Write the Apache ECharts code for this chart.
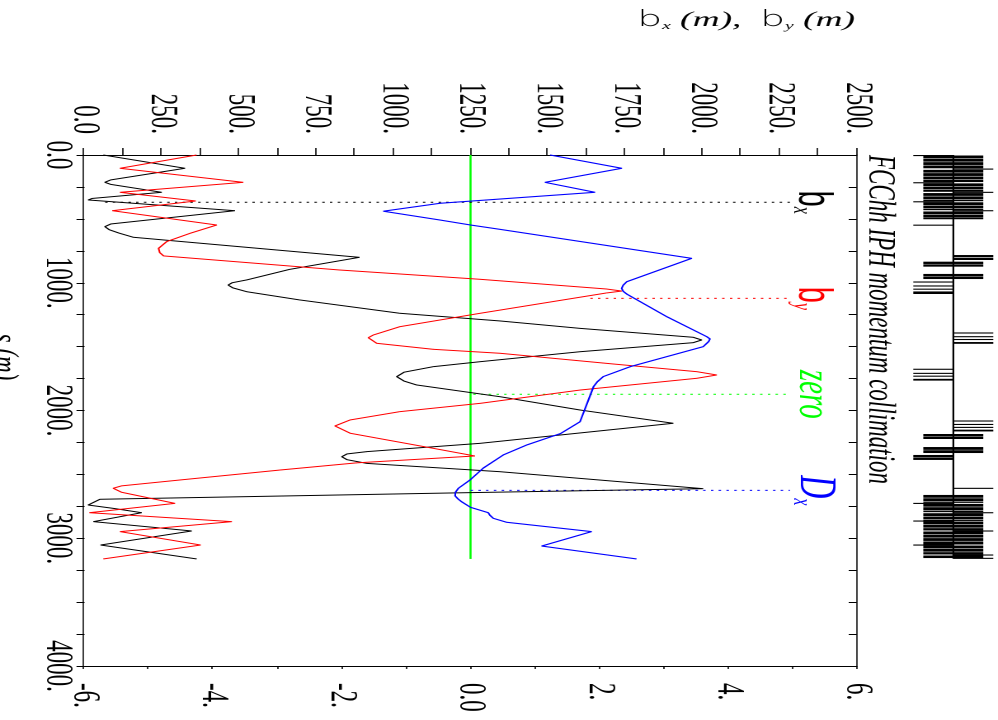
<!DOCTYPE html>
<html>
<head>
<meta charset="utf-8">
<script src="https://cdn.jsdelivr.net/npm/echarts@6/dist/echarts.min.js"></script>
<style>
  html, body { margin: 0; padding: 0; width: 998px; height: 720px; overflow: hidden; background: #fff; }
  /* the plot is drawn upright, then turned a quarter turn and stretched like the original print */
  #chart {
    position: absolute; left: 0; top: 0; width: 720px; height: 605px;
    transform-origin: 0 0;
    transform: translate(998px, 0) rotate(90deg) scaleY(1.6496);
  }
</style>
</head>
<body>
<div id="chart"></div>
<script>
const serif = '"Liberation Serif", "Times New Roman", serif'
const sans = '"Liberation Sans", Arial, sans-serif'
const thinSans = '"DejaVu Sans", "Liberation Sans", sans-serif'

// beta_x (m) along s (m)
const bxS = [0, 104, 195, 214, 230, 292, 340, 352, 362, 436, 540, 561, 585, 610, 644, 801, 895, 978, 1000, 1018, 1040, 1070, 1135, 1239, 1299, 1357, 1427, 1448, 1469, 1540, 1618, 1657, 1700, 1735, 1770, 1800, 1892, 1996, 2100, 2257, 2322, 2340, 2362, 2385, 2414, 2479, 2612, 2645, 2695, 2740, 2766, 2800, 2870, 2943, 3053, 3162]
const bxVal = [61, 325, 85, 66, 85, 250, 25, 12, 22, 487, 85, 66, 80, 110, 158, 890, 665, 525, 478, 465, 480, 525, 698, 1021, 1345, 1604, 1971, 1998, 1971, 1604, 1281, 1129, 1035, 1011, 1035, 1075, 1345, 1604, 1906, 1281, 914, 850, 833, 850, 914, 1345, 2003, 1200, 50, 12, 93, 185, 29, 347, 52, 363]

// beta_y (m) along s (m)
const byS = [0, 104, 214, 292, 360, 436, 548, 613, 678, 730, 765, 790, 801, 900, 973, 1049, 1065, 1080, 1239, 1344, 1409, 1430, 1474, 1521, 1552, 1636, 1696, 1722, 1748, 1840, 1944, 2009, 2074, 2121, 2178, 2296, 2356, 2410, 2466, 2544, 2590, 2609, 2640, 2727, 2800, 2870, 2948, 3053, 3162]
const byVal = [363, 115, 514, 115, 360, 90, 428, 342, 266, 240, 244, 256, 266, 825, 1281, 1690, 1739, 1690, 1281, 1021, 935, 919, 946, 1129, 1345, 1712, 1982, 2047, 1982, 1604, 1281, 1021, 860, 811, 860, 1129, 1264, 880, 633, 309, 120, 93, 120, 293, 16, 477, 115, 376, 61]

// D_x (m) along s (m)
const dxS = [0, 104, 214, 292, 378, 440, 509, 548, 582, 809, 992, 1020, 1044, 1066, 1088, 1265, 1422, 1440, 1460, 1500, 1657, 1735, 1775, 1814, 2088, 2180, 2270, 2348, 2450, 2544, 2609, 2640, 2669, 2690, 2714, 2758, 2800, 2820, 2844, 2875, 2948, 3061, 3162]
const dxVal = [1.234, 2.35, 1.156, 1.933, -0.476, -1.357, -0.476, 0, 0.457, 3.436, 2.426, 2.37, 2.348, 2.37, 2.426, 3.047, 3.67, 3.72, 3.7, 3.616, 2.48, 2.06, 1.97, 1.91, 1.7, 1.4, 0.872, 0.508, 0.2, -0.01, -0.19, -0.235, -0.24, -0.2, -0.14, 0, 0.275, 0.3, 0.353, 0.56, 1.88, 1.105, 2.58]

// reference line D_x = 0
const zeroS = [0, 3162]
const zeroVal = [0, 0]

// curve labels: s of the leader, D_x where it starts, D_x where it ends
const labelS = [370, 1122, 1873, 2625]
const labelFrom = [-5.68, 1.86, 0.04, 0]
const labelTo = 4.963

// machine layout along s (m): bends, focusing and defocusing quads
const bends = [
  [4, 26], [30, 52], [56, 78], [82, 104], [116, 138], [142, 164], [168, 190], [194, 212],
  [222, 244], [248, 270], [274, 288], [298, 320], [324, 346], [350, 362], [370, 392], [396, 418],
  [422, 432], [442, 464], [468, 490], [492, 503],
  [835, 853], [856, 874], [931, 949], [952, 971], [2184, 2202], [2205, 2223], [2286, 2308], [2311, 2333],
  [2661, 2683], [2687, 2709], [2713, 2723], [2731, 2753], [2757, 2779], [2783, 2796], [2804, 2826], [2830, 2852],
  [2856, 2861], [2869, 2891], [2895, 2917], [2921, 2939], [2947, 2969], [2973, 2995], [2999, 3021], [3025, 3049],
  [3057, 3079], [3083, 3105], [3109, 3127], [3135, 3155]
]
const quadsF = [
  [106, 113], [288, 296], [432, 440], [783, 800], [805, 822],
  [1389, 1396], [1418, 1425], [1440, 1447], [1464, 1478],
  [2078, 2085], [2105, 2112], [2128, 2136], [2150, 2164],
  [2605, 2611], [2796, 2804], [2939, 2947], [3127, 3135], [3153, 3157]
]
const quadsD = [
  [0, 3], [213, 220], [362, 369], [545, 551],
  [990, 997], [1021, 1027], [1046, 1053], [1068, 1088],
  [1673, 1680], [1705, 1712], [1727, 1734], [1752, 1766],
  [2348, 2366], [2369, 2387], [2723, 2731], [2861, 2869], [3049, 3057]
]
const lineS = [0, 3160]

const zip = (xs, ys) => xs.map((x, i) => [x, ys[i]])

function tickText (step) {
  return (v) => (v % step === 0 ? (v === 0 ? '0.0' : v + '.') : '')
}

const layoutData = []
bends.forEach((r) => layoutData.push([r[0], r[1], 0]))
quadsF.forEach((r) => layoutData.push([r[0], r[1], 1]))
quadsD.forEach((r) => layoutData.push([r[0], r[1], -1]))

const tickLabel = { fontSize: 23, fontFamily: serif, color: '#000' }

const chart = echarts.init(document.getElementById('chart'), null, { width: 720, height: 605, devicePixelRatio: 2 })

const leaderColors = ['#000', '#ff0000', '#00ff00', '#0000ff']
const leaderSeries = labelS.map((s, i) => ({
  type: 'line',
  xAxisIndex: 0,
  yAxisIndex: 1,
  data: [[s, labelFrom[i]], [s, labelTo]],
  symbol: 'none',
  lineStyle: { color: leaderColors[i], width: 1, type: [1.5, 3.2] },
  z: 3
}))

chart.setOption({
  animation: false,
  grid: [
    { left: 155, right: 54, top: 85.66, bottom: 51.23, outerBoundsMode: 'none' },
    { left: 155, right: 54, top: 2.85, height: 48.5, outerBoundsMode: 'none' }
  ],
  xAxis: [
    {
      gridIndex: 0, type: 'value', position: 'bottom', min: 0, max: 4000, interval: 250,
      axisLine: { show: true, onZero: false, lineStyle: { color: '#000', width: 0.8 } },
      axisTick: { show: true, inside: false, length: 4.85, lineStyle: { color: '#000', width: 1 } },
      axisLabel: Object.assign({ formatter: tickText(1000), margin: 5 }, tickLabel),
      splitLine: { show: false }
    },
    {
      gridIndex: 0, type: 'value', position: 'top', min: 0, max: 4000, interval: 250,
      axisLine: { show: true, onZero: false, lineStyle: { color: '#000', width: 0.8 } },
      axisTick: { show: true, inside: true, length: 4.85, lineStyle: { color: '#000', width: 1 } },
      axisLabel: { show: false },
      splitLine: { show: false }
    },
    { gridIndex: 1, type: 'value', min: 0, max: 4000, show: false }
  ],
  yAxis: [
    {
      gridIndex: 0, type: 'value', position: 'left', min: 0, max: 2500, interval: 125,
      axisLine: { show: true, onZero: false, lineStyle: { color: '#000', width: 1 } },
      axisTick: { show: true, inside: false, length: 7, lineStyle: { color: '#000', width: 0.8 } },
      axisLabel: Object.assign({ formatter: tickText(250), margin: 21 }, tickLabel),
      splitLine: { show: false }
    },
    {
      gridIndex: 0, type: 'value', position: 'right', min: -6, max: 6, interval: 1,
      axisLine: { show: true, onZero: false, lineStyle: { color: '#000', width: 1 } },
      axisTick: { show: true, inside: false, length: 3, lineStyle: { color: '#000', width: 0.8 } },
      axisLabel: Object.assign({ formatter: tickText(2), margin: 17 }, tickLabel),
      splitLine: { show: false }
    },
    { gridIndex: 1, type: 'value', min: -40, max: 40, show: false }
  ],
  series: [
    {
      name: 'bx', type: 'line', xAxisIndex: 0, yAxisIndex: 0, data: zip(bxS, bxVal),
      symbol: 'none', lineStyle: { color: '#000', width: 1 }, z: 4
    },
    {
      name: 'by', type: 'line', xAxisIndex: 0, yAxisIndex: 0, data: zip(byS, byVal),
      symbol: 'none', lineStyle: { color: '#ff0000', width: 1 }, z: 4
    },
    {
      name: 'Dx', type: 'line', xAxisIndex: 0, yAxisIndex: 1, data: zip(dxS, dxVal),
      symbol: 'none', lineStyle: { color: '#0000ff', width: 1.1 }, z: 4
    },
    {
      name: 'zero', type: 'line', xAxisIndex: 0, yAxisIndex: 1, data: zip(zeroS, zeroVal),
      symbol: 'none', lineStyle: { color: '#00ff00', width: 1.3 }, z: 3
    },
    ...leaderSeries,
    {
      type: 'custom', xAxisIndex: 2, yAxisIndex: 2, data: layoutData, clip: false,
      encode: { x: [0, 1] },
      renderItem (params, api) {
        const kind = api.value(2)
        const hi = kind === 0 ? 30 : (kind > 0 ? 40 : 0)
        const lo = kind === 0 ? -30 : (kind > 0 ? 0 : -40)
        const a = api.coord([api.value(0), hi])
        const b = api.coord([api.value(1), lo])
        return {
          type: 'rect',
          shape: { x: a[0], y: a[1], width: Math.max(b[0] - a[0], 1.1), height: b[1] - a[1] },
          style: { fill: '#000' }
        }
      }
    },
    {
      type: 'line', xAxisIndex: 2, yAxisIndex: 2, data: zip(lineS, [0, 0]),
      symbol: 'none', lineStyle: { color: '#000', width: 1.1 }, z: 5
    }
  ]
})

// curve names sit above the end of their dotted leaders
const labelDefs = [
  { text: '{b|b}{sub|x}', color: '#000' },
  { text: '{b|b}{sub|y}', color: '#ff0000' },
  { text: '{i|zero}', color: '#00ff00' },
  { text: '{d|D}{sub|x}', color: '#0000ff' }
]
const labelGraphics = labelDefs.map((d, i) => {
  const px = chart.convertToPixel({ xAxisIndex: 0 }, labelS[i])
  const py = chart.convertToPixel({ yAxisIndex: 1 }, labelTo)
  return {
    type: 'text', x: px, y: py + 1, z: 10,
    style: {
      text: d.text, fill: d.color, align: 'center', verticalAlign: 'bottom',
      rich: {
        b: { fontFamily: sans, fontSize: 29, fill: d.color },
        i: { fontFamily: serif, fontStyle: 'italic', fontSize: 29, fill: d.color },
        d: { fontFamily: serif, fontStyle: 'italic', fontSize: 32, fill: d.color },
        sub: { fontFamily: serif, fontStyle: 'italic', fontSize: 16, fill: d.color, verticalAlign: 'bottom' }
      }
    }
  }
})

chart.setOption({
  graphic: [
    {
      type: 'text', x: 155, y: 71.8,
      style: {
        text: 'FCChh IPH momentum collimation', fill: '#000', align: 'left', verticalAlign: 'middle',
        fontFamily: serif, fontStyle: 'italic', fontSize: 23
      }
    },
    {
      type: 'text', x: 20.5, y: 86.7, rotation: Math.PI / 2, scaleX: 1.08,
      style: {
        text: '{b|b}{sx|x}{m| (m),  }{b|b}{sx|y}{m| (m)}', align: 'right', verticalAlign: 'middle',
        rich: {
          b: { fontFamily: thinSans, fontWeight: 200, fontSize: 22, fill: '#000' },
          sx: { fontFamily: serif, fontStyle: 'italic', fontSize: 11, fill: '#000', verticalAlign: 'bottom' },
          m: { fontFamily: serif, fontStyle: 'italic', fontSize: 21, fill: '#000' }
        }
      }
    },
    {
      type: 'text', x: 357, y: 592,
      style: {
        text: 's (m)', fill: '#000', align: 'center', verticalAlign: 'top',
        fontFamily: serif, fontStyle: 'italic', fontSize: 23
      }
    },
    ...labelGraphics
  ]
})
</script>
</body>
</html>
